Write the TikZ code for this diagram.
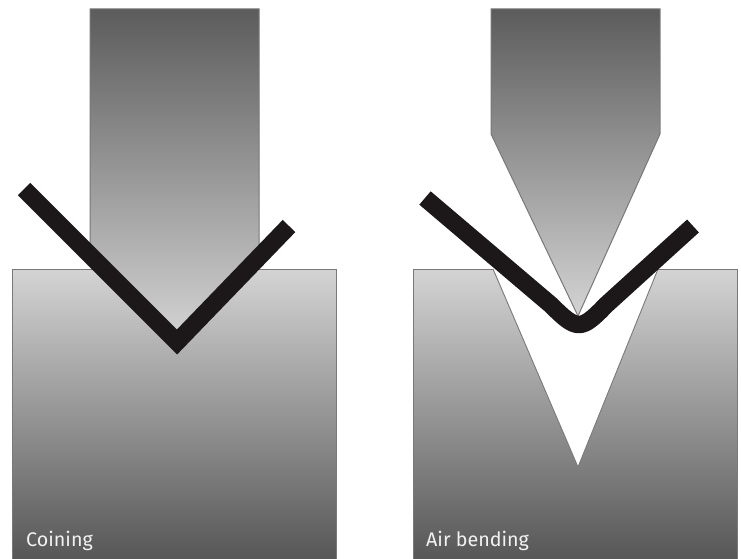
\documentclass[tikz,border=0pt]{standalone}
\usepackage{fontspec}
\setmainfont{Fira Sans}
\definecolor{edgegray}{HTML}{7A7878}
\definecolor{sheetblack}{HTML}{1C181A}
\tikzset{
  x=1pt,y=-1pt,
  diebody/.style={top color=black!17,bottom color=black!66,draw=edgegray,line width=1pt},
  punchbody/.style={top color=black!64,bottom color=black!17,draw=edgegray,line width=1pt},
  sheet/.style={draw=sheetblack,line width=17.5pt,line cap=butt},
  caption/.style={text=white!95!black,anchor=base west,inner sep=0pt,font=\fontsize{19.7}{22}\selectfont}
}
\begin{document}
\begin{tikzpicture}
\useasboundingbox (0,0) rectangle (741,559);
\fill[white] (0,0) rectangle (741,559);
% Coining
\shade[diebody] (12,269) rectangle (336,559);
\shade[punchbody] (90,9) -- (259,9) -- (259,256) -- (177,340) -- (90,256) -- cycle;
\draw[sheet,line join=miter,miter limit=4] (24,189) -- (177,342) -- (289,226);
\node[caption] (coining) at (26,546) {Coining};
% Air bending
\shade[diebody] (413,269) rectangle (737,559);
\fill[white] (493,269) -- (578,467) -- (658,269) -- cycle;
\draw[edgegray,line width=0.9pt] (493,269) -- (578,467) -- (658,269);
\shade[punchbody] (491,9) -- (660,9) -- (660,134) -- (578,316) -- (491,134) -- cycle;
\draw[sheet,line join=round] (425,198) -- (551,305) .. controls (577,331) and (581,331) .. (606,305) -- (693,226);
\node[caption] (airbending) at (426,546) {Air bending};
\end{tikzpicture}
\end{document}
